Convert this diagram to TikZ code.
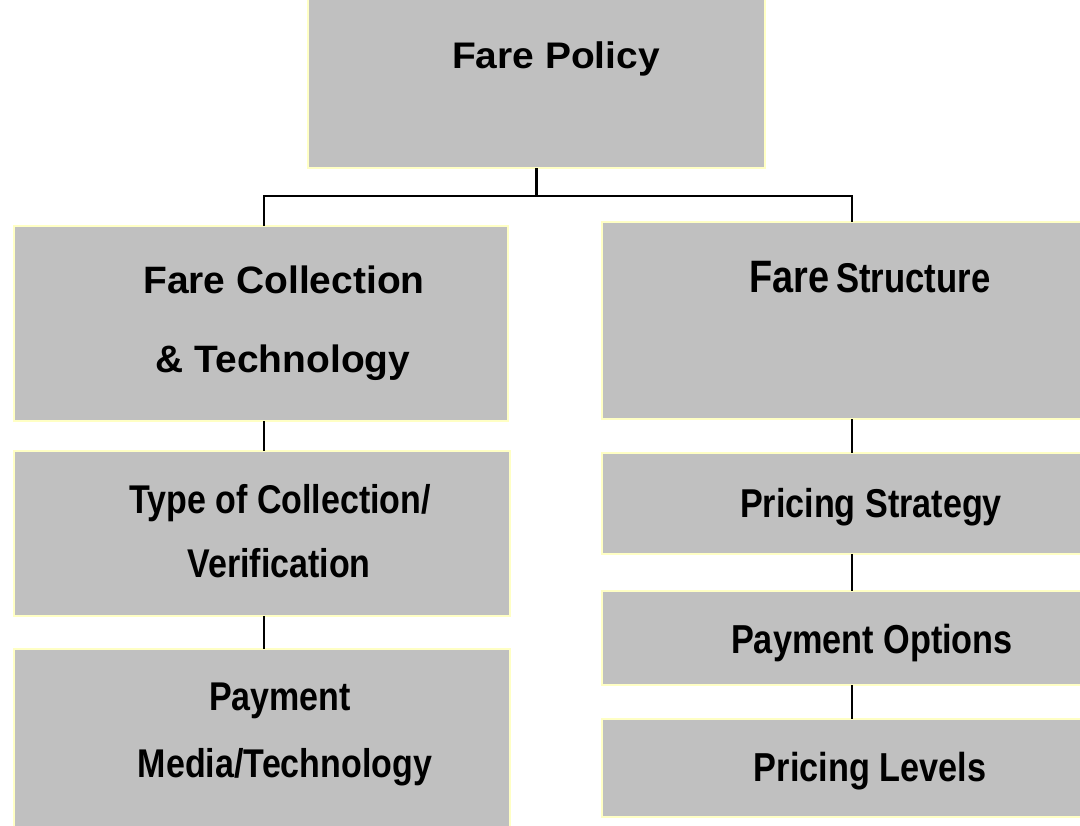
\documentclass[tikz,border=0pt]{standalone}
\usepackage{graphicx}
\usepackage{fontspec}
\setmainfont{Liberation Sans}
\definecolor{boxgray}{HTML}{C0C0C0}
\definecolor{boxedge}{HTML}{FFFFC4}
\newcommand\ts[3]{\scalebox{1}[#2]{\fontsize{#1}{#1}\selectfont\bfseries #3}}
\tikzset{
  box/.style={rectangle, draw=boxedge, fill=boxgray, line width=1.1pt, inner sep=0pt, outer sep=0pt},
  lbl/.style={anchor=base, inner sep=0pt, outer sep=0pt},
  conn/.style={draw=black, line width=1.8pt}
}
\newcommand\mkbox[5]{\node[box, minimum width=#4*0.75pt, minimum height=#5*0.75pt] (#1) at (#2,#3) {};}
\begin{document}
\begin{tikzpicture}[x=0.75pt, y=-0.75pt]
\useasboundingbox (0,0) rectangle (1080,825);
\fill[white] (0,0) rectangle (1080,825);
% boxes
\mkbox{policy}{536.5}{82.5}{457}{171}
\mkbox{collect}{261}{323.5}{494}{195}
\mkbox{structure}{843}{320.5}{482}{197}
\mkbox{type}{262}{533.5}{496}{165}
\mkbox{media}{262}{739.5}{496}{181}
\mkbox{strategy}{843}{503.5}{482}{101}
\mkbox{options}{843}{638}{482}{94}
\mkbox{levels}{843}{768}{482}{98}
% connectors
\coordinate (jl) at (264,196);
\coordinate (jr) at (852,196);
\draw[conn] (policy.south) -- (policy.south |- jl);
\draw[conn] (jl |- collect.north) -- (jl) -- (jr) -- (jr |- structure.north);
\draw[conn] (jl |- collect.south) -- (jl |- type.north);
\draw[conn] (jl |- type.south) -- (jl |- media.north);
\draw[conn] (jr |- structure.south) -- (jr |- strategy.north);
\draw[conn] (jr |- strategy.south) -- (jr |- options.north);
\draw[conn] (jr |- options.south) -- (jr |- levels.north);
% labels
\node[lbl] (tpolicy) at (556,68) {\ts{29.2}{0.95}{Fare Policy}};
\node[lbl] (tcollect1) at (284,293) {\ts{29.2}{0.98}{Fare Collection}};
\node[lbl] (tcollect2) at (283,372) {\ts{29.2}{0.98}{\&\ Technology}};
\node[lbl] (tstructure) at (870,292) {\ts{28.4}{1.2}{Fare}\hspace{5pt}\ts{26}{1.2}{Structure}};
\node[lbl] (ttype1) at (280,513) {\ts{25.5}{1.18}{Type of Collection/}};
\node[lbl] (ttype2) at (279,577) {\ts{25.5}{1.18}{Verification}};
\node[lbl] (tmedia1) at (280,710) {\ts{25.5}{1.18}{Payment}};
\node[lbl] (tmedia2) at (285,777) {\ts{25.5}{1.18}{Media/Technology}};
\node[lbl] (tstrategy) at (871,517) {\ts{25.6}{1.18}{Pricing Strategy}};
\node[lbl] (toptions) at (872,653) {\ts{25.7}{1.18}{Payment Options}};
\node[lbl] (tlevels) at (870,781) {\ts{25.7}{1.18}{Pricing Levels}};
\end{tikzpicture}
\end{document}
